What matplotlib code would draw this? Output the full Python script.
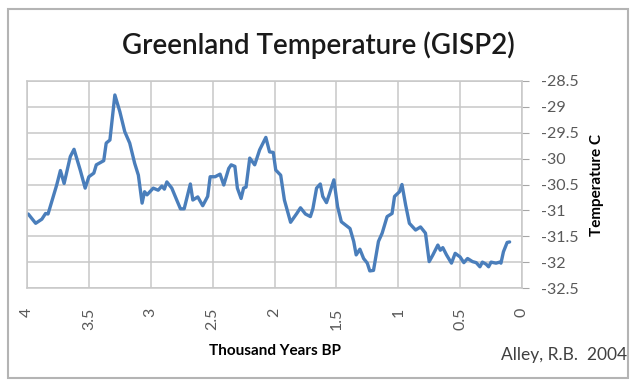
#!/usr/bin/env python3

import matplotlib
matplotlib.use("Agg")
import matplotlib.pyplot as plt
from matplotlib.patches import Rectangle

# GISP2 temperature
years_bp = [3.99, 3.95, 3.93, 3.88, 3.85, 3.83, 3.80, 3.76, 3.73, 3.70,
            3.65, 3.62, 3.57, 3.53, 3.50, 3.46, 3.44, 3.38, 3.36, 3.33,
            3.29, 3.25, 3.21, 3.17, 3.13, 3.10, 3.07, 3.05, 3.03, 2.98,
            2.94, 2.91, 2.89, 2.87, 2.83, 2.79, 2.76, 2.73, 2.68, 2.66,
            2.62, 2.58, 2.54, 2.52, 2.48, 2.44, 2.41, 2.37, 2.35, 2.32,
            2.30, 2.27, 2.25, 2.23, 2.20, 2.16, 2.12, 2.07, 2.04, 2.01,
            1.99, 1.95, 1.92, 1.87, 1.82, 1.79, 1.75, 1.71, 1.69, 1.66,
            1.63, 1.61, 1.58, 1.56, 1.52, 1.49, 1.46, 1.39, 1.36, 1.34,
            1.31, 1.28, 1.25, 1.23, 1.20, 1.16, 1.13, 1.09, 1.05, 1.03,
            0.99, 0.97, 0.94, 0.91, 0.86, 0.82, 0.78, 0.75, 0.72, 0.68,
            0.66, 0.64, 0.61, 0.57, 0.54, 0.50, 0.47, 0.44, 0.40, 0.37,
            0.34, 0.32, 0.29, 0.27, 0.25, 0.21, 0.18, 0.17, 0.15, 0.12,
            0.10]
temp_c = [-31.07, -31.19, -31.25, -31.17, -31.06, -31.07, -30.83, -30.51, -30.23, -30.48,
          -29.96, -29.82, -30.22, -30.57, -30.35, -30.28, -30.12, -30.04, -29.70, -29.64,
          -28.77, -29.09, -29.48, -29.70, -30.09, -30.32, -30.86, -30.64, -30.70, -30.57,
          -30.61, -30.53, -30.59, -30.45, -30.57, -30.80, -30.97, -30.97, -30.49, -30.80,
          -30.74, -30.91, -30.73, -30.35, -30.35, -30.30, -30.51, -30.19, -30.12, -30.15,
          -30.57, -30.77, -30.57, -30.55, -29.99, -30.12, -29.83, -29.59, -29.87, -29.88,
          -30.22, -30.32, -30.80, -31.23, -31.06, -30.95, -31.07, -31.12, -30.97, -30.57,
          -30.49, -30.73, -30.85, -30.71, -30.41, -30.93, -31.22, -31.35, -31.60, -31.86,
          -31.75, -31.93, -32.02, -32.17, -32.16, -31.60, -31.44, -31.12, -31.06, -30.73,
          -30.64, -30.50, -30.90, -31.25, -31.38, -31.32, -31.44, -31.99, -31.86, -31.67,
          -31.77, -31.72, -31.86, -32.02, -31.83, -31.90, -32.01, -31.93, -31.99, -32.01,
          -32.09, -32.00, -32.04, -32.09, -32.00, -32.02, -32.00, -32.02, -31.80, -31.62,
          -31.61]

x_ticks = [4, 3.5, 3, 2.5, 2, 1.5, 1, 0.5, 0]
x_tick_labels = ["4", "3.5", "3", "2.5", "2", "1.5", "1", "0.5", "0"]
y_ticks = [-28.5, -29, -29.5, -30, -30.5, -31, -31.5, -32, -32.5]
y_tick_labels = ["-28.5", "-29", "-29.5", "-30", "-30.5", "-31", "-31.5", "-32", "-32.5"]

plt.rcParams['font.family'] = ['Lato', 'DejaVu Sans']

fig = plt.figure(figsize=(6.4, 3.89), dpi=100)
ax = fig.add_axes([27 / 640, 1 - 288 / 389, 495 / 640, 207 / 389])

ax.plot(years_bp, temp_c, color='#4a7ebb', linewidth=2.4,
        solid_joinstyle='round', solid_capstyle='round')

ax.set_xlim(4, 0)
ax.set_ylim(-32.5, -28.5)
ax.set_xticks(x_ticks)
ax.set_xticklabels(x_tick_labels, rotation=90, color='#595959', fontsize=11.5)
ax.set_yticks(y_ticks)
ax.set_yticklabels(y_tick_labels, color='#595959', fontsize=11.5)
ax.yaxis.tick_right()
ax.tick_params(axis='x', length=0, pad=14)
ax.tick_params(axis='y', length=5, color='#a6a6a6', pad=9)
ax.grid(True, color='#c8c8c8', linewidth=1.1)
ax.set_axisbelow(True)
for s in ax.spines.values():
    s.set_color('#c8c8c8')
    s.set_linewidth(1.1)

fig.text(318 / 640, 1 - 45 / 389, "Greenland Temperature (GISP2)",
         ha='center', va='center', fontsize=20, fontweight='semibold',
         color='#1a1a1a')
fig.text(597 / 640, 1 - 185 / 389, "Temperature C", rotation=90,
         ha='center', va='center', fontsize=11, fontweight='bold')
fig.text(275 / 640, 1 - 351 / 389, "Thousand Years BP",
         ha='center', va='center', fontsize=11, fontweight='bold')
fig.text(627 / 640, 1 - 355 / 389, "Alley, R.B.  2004",
         ha='right', va='center', fontsize=12.5, color='#404040')

fig.patches.append(Rectangle((8 / 640, 1 - 378 / 389), 620 / 640, 369 / 389,
                             transform=fig.transFigure, fill=False,
                             edgecolor='#b4b4b4', linewidth=1.5))

fig.savefig("out.png", dpi=100)
